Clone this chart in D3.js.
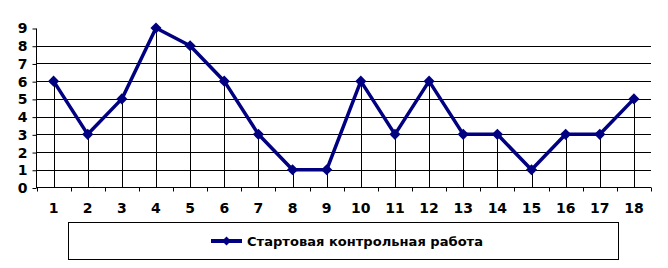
<!DOCTYPE html>
<html><head><meta charset="utf-8">
<script src="https://cdn.jsdelivr.net/npm/d3@7"></script>
<style>body{margin:0;background:#fff}svg{display:block}</style>
</head><body>
<svg id="c" width="668" height="268"></svg>
<script>
const categories = ["1","2","3","4","5","6","7","8","9","10","11","12","13","14","15","16","17","18"];
const values = [6,3,5,9,8,6,3,1,1,6,3,6,3,3,1,3,3,5];
const yTicks = [0,1,2,3,4,5,6,7,8,9];
const seriesName = "Стартовая контрольная работа";

const svg = d3.select("#c");
const L = 36.5, R = 651, T = 28, B = 187.5;
const x = d3.scaleBand().domain(categories).range([L, R]);
const y = d3.scaleLinear().domain([0, 9]).range([B, T]);
const font = "'DejaVu Sans', Verdana, sans-serif";
const navy = "#000080";

// gridlines
svg.append("g").selectAll("line").data(yTicks.filter(v => v > 0 && v < 9)).join("line")
  .attr("x1", L).attr("x2", R)
  .attr("y1", d => Math.round(y(d)) + 0.5).attr("y2", d => Math.round(y(d)) + 0.5)
  .attr("stroke", "#000").attr("stroke-width", 1);

// drop lines
svg.append("g").selectAll("line").data(values).join("line")
  .attr("x1", (d, i) => Math.round(x(categories[i]) + x.bandwidth() / 2) + 0.5)
  .attr("x2", (d, i) => Math.round(x(categories[i]) + x.bandwidth() / 2) + 0.5)
  .attr("y1", d => y(d)).attr("y2", B)
  .attr("stroke", "#000").attr("stroke-width", 1);

// y axis
const yAxis = d3.axisLeft(y).tickValues(yTicks).tickSize(4).tickPadding(5).tickFormat(d3.format("d"));
const gy = svg.append("g").attr("transform", `translate(${L},0.5)`).call(yAxis);
gy.select(".domain").attr("d", `M-0.0,${T}V${B}`).attr("stroke", "#000");
gy.selectAll("text").attr("font-family", font).attr("font-size", 14).attr("font-weight", "bold").attr("fill", "#000");

// x axis
const gx = svg.append("g").attr("transform", `translate(0,${B})`);
gx.append("line").attr("x1", L).attr("x2", R).attr("stroke", "#000");
const bounds = categories.map(c => x(c)).concat([R]);
gx.selectAll("line.t").data(bounds).join("line").attr("class", "t")
  .attr("x1", d => Math.round(d) + 0.5).attr("x2", d => Math.round(d) + 0.5)
  .attr("y1", 0).attr("y2", 4).attr("stroke", "#000");
gx.selectAll("text").data(categories).join("text")
  .attr("x", d => x(d) + x.bandwidth() / 2).attr("y", 25)
  .attr("text-anchor", "middle").attr("font-family", font).attr("font-size", 14).attr("font-weight", "bold")
  .text(d => d);

// line
const line = d3.line().x((d, i) => x(categories[i]) + x.bandwidth() / 2).y(d => y(d));
svg.append("path").datum(values).attr("d", line).attr("fill", "none")
  .attr("stroke", navy).attr("stroke-width", 3.5).attr("stroke-linejoin", "round");

svg.append("g").selectAll("path").data(values).join("path")
  .attr("d", d3.symbol().type(d3.symbolSquare).size(62))
  .attr("transform", (d, i) => `translate(${x(categories[i]) + x.bandwidth() / 2},${y(d)}) rotate(45)`)
  .attr("fill", navy);

// legend
svg.append("rect").attr("x", 68.5).attr("y", 222.5).attr("width", 550).attr("height", 37)
  .attr("fill", "none").attr("stroke", "#000");
svg.append("line").attr("x1", 211).attr("x2", 242).attr("y1", 241).attr("y2", 241)
  .attr("stroke", navy).attr("stroke-width", 4);
svg.append("path").attr("d", d3.symbol().type(d3.symbolSquare).size(40))
  .attr("transform", "translate(226.5,241) rotate(45)").attr("fill", navy);
svg.append("text").attr("x", 247).attr("y", 246).attr("font-family", font).attr("font-size", 13)
  .attr("font-weight", "bold").attr("textLength", 236).attr("lengthAdjust", "spacingAndGlyphs")
  .text(seriesName);
</script>
</body></html>
